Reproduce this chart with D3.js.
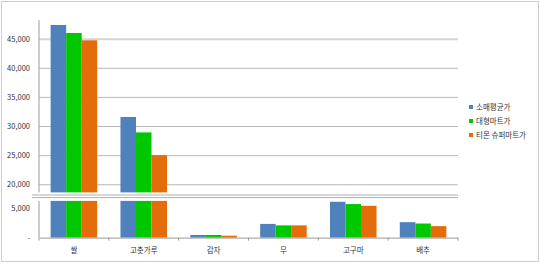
<!DOCTYPE html>
<html>
<head>
<meta charset="utf-8">
<script src="https://cdn.jsdelivr.net/npm/d3@7"></script>
<style>
  body { margin: 0; background: #fff; }
  text { font-family: "Noto Sans CJK KR", "Noto Sans", sans-serif; fill: #333; }
</style>
</head>
<body>
<div id="container"></div>
<script>
// data
var categories = ['쌀', '고춧가루', '감자', '무', '고구마', '배추']
var seriesNames = ['소매평균가', '대형마트가', '티몬 슈퍼마트가']
var retailAvg = [47350, 31550, 450, 2350, 6150, 2650]
var bigMart = [45980, 28900, 450, 2100, 5760, 2420]
var tmon = [44720, 25000, 330, 2100, 5460, 1970]
var topTicks = [20000, 25000, 30000, 35000, 40000, 45000]
var bottomTicks = [0, 5000]

var colors = ['#4f81bd', '#00c800', '#e46c0a']
var values = [retailAvg, bigMart, tmon]

var W = 540, H = 264
var left = 39, right = 458
var topPanel = [21.2, 192.4]     // pixel range of upper part
var bottomPanel = [200.9, 237.6] // pixel range of lower part

var svg = d3.select('#container').append('svg')
    .attr('width', W)
    .attr('height', H)

svg.append('rect')
    .attr('x', 1.5).attr('y', 1.5)
    .attr('width', 537).attr('height', 260)
    .attr('fill', 'none')
    .attr('stroke', '#cfcfcf')

var x = d3.scaleBand().domain(categories).range([left, right])
var xs = d3.scaleBand().domain(d3.range(seriesNames.length))
    .range([0, x.bandwidth()]).paddingOuter(0.75)

var yTop = d3.scaleLinear().domain([18600, 48000]).range([topPanel[1], topPanel[0]])
var yBot = d3.scaleLinear().domain([0, 6300]).range([bottomPanel[1], bottomPanel[0]])

// gridlines + labels, upper part
var gTop = svg.append('g')
    .attr('transform', 'translate(' + left + ',0)')
    .call(d3.axisLeft(yTop).tickValues(topTicks).tickFormat(d3.format(','))
        .tickSize(-(right - left)).tickPadding(9))
gTop.select('.domain').remove()
gTop.selectAll('.tick line').attr('stroke', '#b8b8b8')
gTop.selectAll('.tick').filter(function (d) { return d == 45000 })
    .select('line').attr('stroke', '#d4d4d4').attr('stroke-width', 2)
gTop.selectAll('text').style('font-size', '7.5px')

var gBot = svg.append('g')
    .attr('transform', 'translate(' + left + ',0)')
    .call(d3.axisLeft(yBot).tickValues(bottomTicks)
        .tickFormat(function (d) { return d == 0 ? '-' : d3.format(',')(d) })
        .tickSize(0).tickPadding(9))
gBot.select('.domain').remove()
gBot.selectAll('text').style('font-size', '7.5px')

// bars
for (let s = 0; s < seriesNames.length; s++) {
    var row = values[s]
    var g = svg.append('g').attr('fill', colors[s])
    g.selectAll('rect.top')
        .data(row.map((v, i) => ({ c: categories[i], v: v })).filter(d => d.v > yTop.domain()[0]))
        .join('rect')
        .attr('class', 'top')
        .attr('x', d => x(d.c) + xs(s))
        .attr('width', xs.bandwidth())
        .attr('y', d => yTop(d.v))
        .attr('height', d => yTop(yTop.domain()[0]) - yTop(d.v))
    g.selectAll('rect.bot')
        .data(row.map((v, i) => ({ c: categories[i], v: Math.min(v, yBot.domain()[1]) })))
        .join('rect')
        .attr('class', 'bot')
        .attr('x', d => x(d.c) + xs(s))
        .attr('width', xs.bandwidth())
        .attr('y', d => yBot(d.v))
        .attr('height', d => yBot(0) - yBot(d.v))
}

// y axis lines (broken)
svg.append('line').attr('x1', left).attr('x2', left)
    .attr('y1', topPanel[0] - 1).attr('y2', topPanel[1]).attr('stroke', '#999')
svg.append('line').attr('x1', left).attr('x2', left)
    .attr('y1', bottomPanel[0]).attr('y2', bottomPanel[1]).attr('stroke', '#999')

// break marks
;[195, 197.6].forEach(function (yy) {
    svg.append('line').attr('x1', 32).attr('x2', right)
        .attr('y1', yy).attr('y2', yy)
        .attr('stroke', '#b0b0b0')
})

// x axis
var gx = svg.append('g')
    .attr('transform', 'translate(0,' + bottomPanel[1] + ')')
    .call(d3.axisBottom(x).tickSize(0).tickPadding(10))
gx.select('.domain').attr('stroke', '#999')
gx.selectAll('text').style('font-size', '7.5px')
gx.selectAll('line.bound')
    .data(d3.range(categories.length + 1))
    .join('line')
    .attr('class', 'bound')
    .attr('x1', i => left + i * x.step())
    .attr('x2', i => left + i * x.step())
    .attr('y1', 0).attr('y2', 3)
    .attr('stroke', '#999')

// legend
var lg = svg.append('g').attr('transform', 'translate(469,107)')
seriesNames.forEach(function (name, i) {
    lg.append('rect').attr('x', 0).attr('y', i * 14 - 2)
        .attr('width', 4).attr('height', 4).attr('fill', colors[i])
    lg.append('text').attr('x', 7).attr('y', i * 14)
        .attr('dy', '0.35em').style('font-size', '7.5px').text(name)
})
</script>
</body>
</html>
